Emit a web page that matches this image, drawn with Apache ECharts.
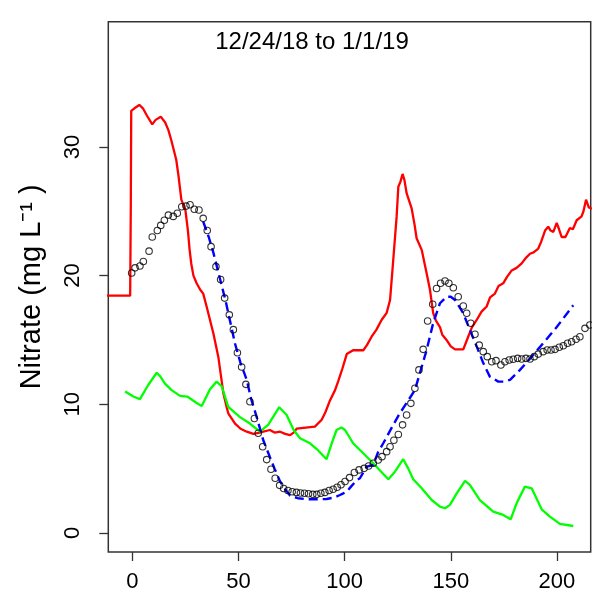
<!DOCTYPE html>
<html>
<head>
<meta charset="utf-8">
<script src="https://cdn.jsdelivr.net/npm/echarts@6/dist/echarts.min.js"></script>
<style>html,body{margin:0;padding:0;background:#fff;}#c{width:592px;height:597px;}</style>
</head>
<body>
<div id="c"></div>
<script>
// Tick labels
const xTicks = [0, 50, 100, 150, 200];
const yTicks = [0, 10, 20, 30];
const titleText = '12/24/18 to 1/1/19';
const yName = 'Nitrate (mg L\u207B\u00B9 )';

// Red line [x, y]
const redLine = [[-12,18.44],[-1,18.44],[-0.7,25.5],[-0.5,32.8],[1,33.0],[3.3,33.26],[5,33.0],[7,32.4],[9.4,31.75],[11,32.1],[13.4,32.35],[15.5,31.9],[17,31.3],[18.4,30.5],[20.7,29.0],[21.8,27.7],[23.1,25.9],[25,25.1],[26.2,23.5],[27,22.0],[27.8,20.9],[28.8,20.0],[30.3,19.4],[32,18.9],[33.4,18.6],[35,17.6],[36.6,16.55],[38.2,15.5],[40.5,13.7],[42.9,10.85],[44.4,9.8],[45.2,9.3],[48.4,8.5],[51,8.1],[53.9,7.87],[57,7.7],[60.1,7.8],[61.7,7.87],[64.8,8.0],[67,7.8],[69.6,7.87],[72,7.7],[74.3,7.6],[76,7.8],[77.4,8.1],[78.2,8.2],[86,8.26],[89.2,8.8],[91,9.4],[93.1,10.3],[95.5,11.1],[97,11.8],[99,12.8],[101,13.9],[104,14.2],[108.8,14.2],[110.5,14.6],[112.7,15.25],[115,15.8],[117.4,16.55],[119.8,17.1],[121.4,18.1],[122.9,21.2],[124.5,24.6],[125.3,26.9],[126.3,27.3],[127.3,27.9],[128.2,27.4],[129.2,26.4],[131.6,25.2],[133,23.9],[133.9,22.9],[136.3,22.0],[138.6,20.2],[140.2,18.9],[141.7,17.1],[143,16.5],[144.9,16.0],[146,15.4],[148,15.0],[150,14.5],[152,14.27],[155.9,14.27],[158.2,15.25],[160,16.0],[162.2,16.55],[164.5,17.2],[166.9,17.6],[168.5,18.3],[170.8,18.6],[172.5,19.2],[174.7,19.4],[176.5,19.9],[178.7,20.4],[181,20.6],[183.4,20.95],[185.5,21.4],[187.3,21.7],[189,21.8],[191.2,22.1],[192.5,22.6],[194.4,23.5],[195.9,23.8],[197,23.5],[198.3,23.4],[199.9,24.1],[201,23.6],[202.2,23.0],[204,23.0],[206.1,23.7],[207.5,23.6],[209.3,24.3],[211.6,24.6],[212.5,25.0],[213.7,25.9],[215,25.3],[216.5,25.2]];

// Green line [x, y]
const greenLine = [[-3.4,11.0],[0.5,10.6],[3.6,10.4],[7.5,11.5],[11.5,12.45],[13,12.2],[15.4,11.6],[18.5,11.1],[22.5,10.65],[25.9,10.6],[30.3,10.1],[32.7,9.87],[36.6,11.17],[39.7,11.76],[42.1,11.4],[45.2,9.8],[50.7,9.0],[55.4,8.5],[60.1,7.87],[64,8.4],[69.2,9.77],[72.7,9.17],[76,8.0],[79,7.36],[83.7,6.97],[87,6.5],[91.5,5.73],[94,7.0],[96.2,8.0],[98.5,8.2],[100.2,8.0],[104,6.97],[107.2,6.45],[113.5,5.42],[117,4.8],[120.6,4.17],[123.7,4.76],[127.6,5.73],[130,5.0],[132.3,4.17],[136.3,3.47],[141,2.56],[144.9,2.04],[147.3,1.92],[149.6,2.18],[152.8,3.08],[156.7,4.04],[159,3.73],[163.7,2.56],[170,1.66],[174.7,1.4],[178.2,1.06],[181,2.3],[184.9,3.6],[188.1,3.47],[192.8,1.84],[196.7,1.27],[201.4,0.7],[207.7,0.54]];

// Blue dashed line [x, y]
const blueLine = [[33.4,24.2],[36,23.0],[38,21.9],[40,20.6],[42,19.3],[44,18.0],[46,16.5],[48.4,14.7],[51,13.2],[53.9,11.9],[56,10.4],[58.6,9.0],[61.7,7.2],[64.8,5.9],[67,5.0],[69.6,4.0],[72,3.4],[74.3,2.9],[78,2.7],[82.1,2.62],[87,2.62],[91.5,2.64],[95,2.75],[97.8,2.95],[99.4,3.08],[101,3.2],[103,3.6],[105.7,4.1],[107.2,4.25],[110.4,5.15],[113.5,5.28],[115.8,6.3],[118.2,6.97],[122.9,8.4],[126,9.3],[129.2,10.1],[133.1,11.1],[136.3,12.9],[138.6,14.2],[141.7,16.3],[144.9,17.85],[148,18.36],[150,18.35],[152,18.1],[155.9,17.07],[159,15.77],[162.2,14.5],[165.3,13.2],[168.4,12.15],[172.4,11.76],[175,11.76],[177.9,11.9],[182.6,12.67],[188.1,13.7],[193.5,14.74],[199.9,16.0],[207.7,17.7]];

// Open circles [x, y]
const circles = [[-0.3,20.2],[1.3,20.6],[3.6,20.75],[5.2,21.1],[7.9,21.9],[9.4,23.0],[11.8,23.5],[13.4,23.9],[15.1,24.3],[17,24.7],[19.3,24.6],[21.2,24.85],[23.3,25.35],[25.3,25.4],[27.2,25.5],[29.2,25.15],[31.4,25.1],[33.4,24.45],[35.3,23.5],[37.1,22.25],[39.4,20.7],[41.6,19.7],[43.5,18.25],[45.7,16.95],[47.6,15.8],[49.5,14.0],[51.5,12.9],[53.5,11.55],[55.4,10.2],[57.5,8.9],[59.3,7.75],[61.4,6.7],[63.3,5.7],[65.3,4.95],[67.3,4.25],[69.4,3.7],[71.3,3.45],[73.3,3.3],[75.3,3.2],[77.3,3.15],[79.2,3.1],[81.1,3.08],[83,3.05],[85,3.0],[86.9,3.0],[88.8,3.08],[90.7,3.15],[92.7,3.3],[94.6,3.4],[96.5,3.55],[98.3,3.75],[100.2,4.0],[102.3,4.3],[104.6,4.7],[106.8,4.9],[109.2,5.02],[111.3,5.2],[113.5,5.42],[115.8,5.67],[117.6,5.93],[119.8,6.32],[121.4,6.7],[123.2,7.2],[125.3,7.65],[127.3,8.4],[129.2,9.17],[131.2,10.07],[133.1,11.24],[135,12.67],[137,14.27],[139.1,16.47],[141.5,17.77],[143.3,19.0],[145.2,19.4],[147.3,19.58],[149.1,19.4],[151.2,19.06],[153.5,18.36],[155.9,17.64],[157.5,17.07],[159.4,16.3],[161.4,15.44],[163.4,14.6],[165.3,14.09],[167.2,13.7],[169.3,13.31],[171.3,13.39],[173.6,13.05],[175.5,13.31],[177.5,13.44],[179.4,13.5],[181.5,13.57],[183.4,13.52],[185.4,13.57],[187.3,13.52],[189.3,13.7],[191.2,13.9],[193.5,14.09],[195.4,14.22],[197.2,14.22],[199.1,14.27],[201.1,14.43],[203,14.55],[205,14.74],[206.9,14.86],[209,15.05],[210.8,15.25],[213.2,15.9],[215.5,16.16]];

const FONT = '"Liberation Sans", Arial, sans-serif';
const chart = echarts.init(document.getElementById('c'), null, {renderer: 'canvas'});
chart.setOption({
  animation: false,
  backgroundColor: '#fff',
  grid: {left: 108.3, top: 21.7, right: 1.3, bottom: 45, show: true, borderColor: '#333', borderWidth: 1.5, backgroundColor: 'transparent'},
  xAxis: {
    type: 'value', min: -11.3, max: 215.9,
    splitLine: {show: false},
    axisLine: {show: false, onZero: false},
    axisTick: {show: true, length: 9, lineStyle: {color: '#333', width: 1.3}, customValues: xTicks},
    axisLabel: {color: '#000', fontSize: 22, fontFamily: FONT, margin: 19, customValues: xTicks}
  },
  yAxis: {
    type: 'value', min: -1.48, max: 39.73,
    name: yName, nameLocation: 'middle', nameGap: 62, nameRotate: 90,
    nameTextStyle: {color: '#000', fontSize: 29, fontFamily: FONT},
    splitLine: {show: false},
    axisLine: {show: false, onZero: false},
    axisTick: {show: true, length: 9, lineStyle: {color: '#333', width: 1.3}, customValues: yTicks},
    axisLabel: {color: '#000', fontSize: 22, fontFamily: FONT, margin: 24, rotate: 90, customValues: yTicks}
  },
  graphic: [{
    type: 'text', x: 312, y: 42,
    style: {text: titleText, fill: '#000', font: '24px ' + FONT, textAlign: 'center', textVerticalAlign: 'middle'}
  }],
  series: [
    {type: 'line', data: redLine, showSymbol: false, lineStyle: {color: '#FF0000', width: 2.3}, z: 2},
    {type: 'line', data: greenLine, showSymbol: false, lineStyle: {color: '#00FF00', width: 2.3}, z: 2},
    {type: 'line', data: blueLine, showSymbol: false, lineStyle: {color: '#0000FF', width: 2.4, type: [9, 5]}, z: 3},
    {type: 'scatter', data: circles, symbol: 'circle', symbolSize: 6.5, itemStyle: {color: 'rgba(0,0,0,0)', borderColor: '#000', borderWidth: 1.1}, z: 4}
  ]
});
</script>
</body>
</html>
